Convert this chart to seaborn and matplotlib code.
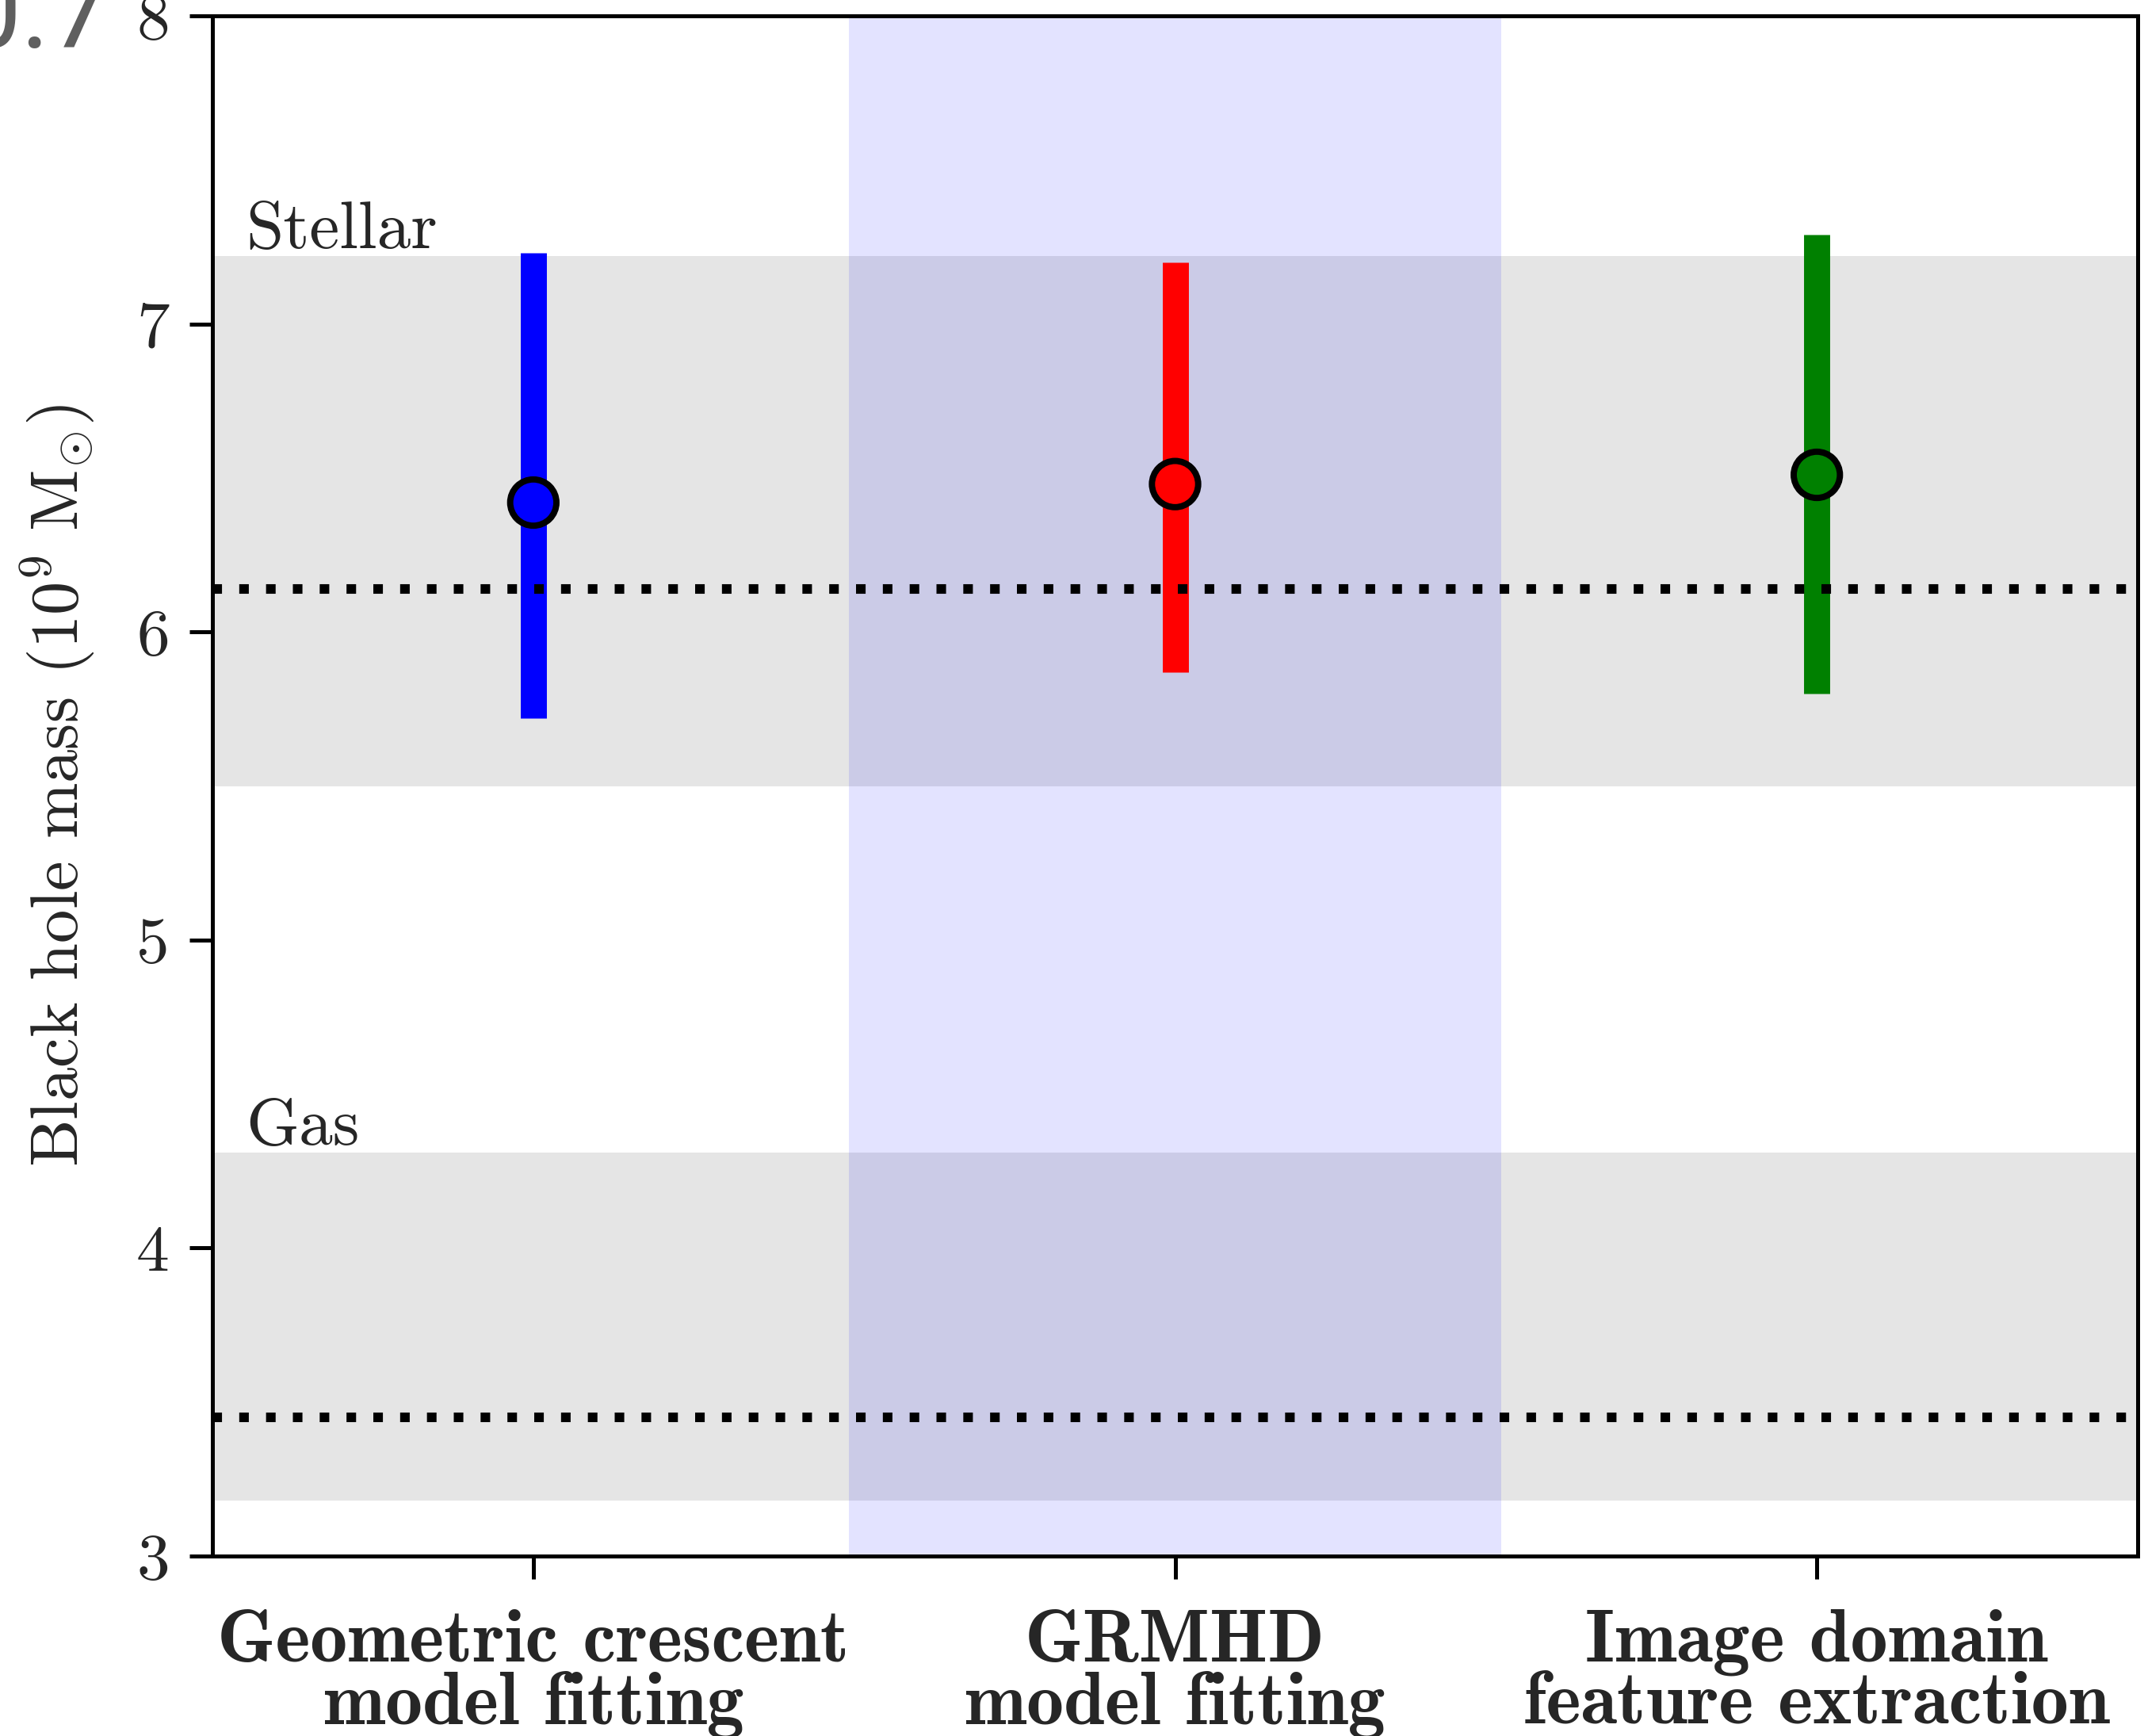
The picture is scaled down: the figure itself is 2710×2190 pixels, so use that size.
import numpy as np
import pandas as pd
import matplotlib
matplotlib.use("Agg")
import matplotlib.pyplot as plt
import seaborn as sns

# ---------------- data ----------------
methods = ["Geometric crescent\nmodel fitting", "GRMHD\nmodel fitting", "Image domain\nfeature extraction"]
mass = [6.42, 6.48, 6.51]
mass_lo = [5.72, 5.87, 5.80]
mass_hi = [7.23, 7.20, 7.29]
colors = ["#0000ff", "#ff0000", "#008000"]

band_names = ["Stellar", "Gas"]
band_center = [6.14, 3.45]
band_lo = [5.50, 3.18]
band_hi = [7.22, 4.31]

yticks = [3, 4, 5, 6, 7, 8]

df = pd.DataFrame({"method": methods, "pos": np.arange(len(methods)),
                   "mass": mass, "lo": mass_lo, "hi": mass_hi})

# ---------------- style ----------------
sns.set_style("ticks")
plt.rcParams.update({
    "font.family": "serif",
    "font.serif": ["cmr10"],
    "mathtext.fontset": "cm",
    "axes.formatter.use_mathtext": True,
    "axes.linewidth": 1.2,
    "axes.edgecolor": "black",
})

W, H = 2710, 2190
fig = plt.figure(figsize=(W / 300, H / 300), dpi=300)
ax = fig.add_axes([268 / W, 1 - 1963 / H, (2697 - 268) / W, (1963 - 20) / H])

# bands
for lo, hi in zip(band_lo, band_hi):
    ax.axhspan(lo, hi, color="#e5e5e5", lw=0, zorder=0)
ax.axvspan(0.492, 1.508, color="blue", alpha=0.11, lw=0, zorder=0.5)

# error bars
ax.vlines(df["pos"], df["lo"], df["hi"], colors=colors, lw=7.9, zorder=2)

# dotted reference lines
for c in band_center:
    ax.axhline(c, color="black", lw=2.9, ls=(0, (1, 1.8)), dash_capstyle="butt", zorder=2.5)

# points
sns.scatterplot(data=df, x="pos", y="mass", hue="method", palette=colors,
                s=14 ** 2, edgecolor="black", linewidth=1.9, legend=False,
                zorder=3, ax=ax)

# band labels
for name, hi in zip(band_names, band_hi):
    ax.text(-0.448, hi + 0.026, name, fontsize=20.5, ha="left", va="baseline")

ax.set_xlim(-0.5, 2.5)
ax.set_ylim(3, 8)
ax.set_yticks(yticks)
ax.set_yticklabels([str(t) for t in yticks])
ax.set_xticks(df["pos"])
ax.set_xticklabels(methods, fontfamily="cmb10", fontsize=22.5, linespacing=0.92)
ax.set_xlabel("")
ax.set_ylabel(r"Black hole mass $(10^9\ \mathrm{M}_{\odot})$", fontsize=20.3)
ax.yaxis.set_label_coords(-0.06, 0.5)

ax.tick_params(axis="both", direction="out", length=7, width=1.2, color="black")
ax.tick_params(axis="y", labelsize=20, pad=6)
ax.tick_params(axis="x", pad=9)
for s in ax.spines.values():
    s.set_visible(True)
    s.set_linewidth(1.2)
    s.set_color("black")

# cropped text fragment at the top-left corner
fig.text(140 / W, 1 - 60 / H, "0.7", fontsize=33, color="#5f5f5f",
         ha="right", va="baseline", family="Roboto")

fig.savefig("out.png", dpi=300)
